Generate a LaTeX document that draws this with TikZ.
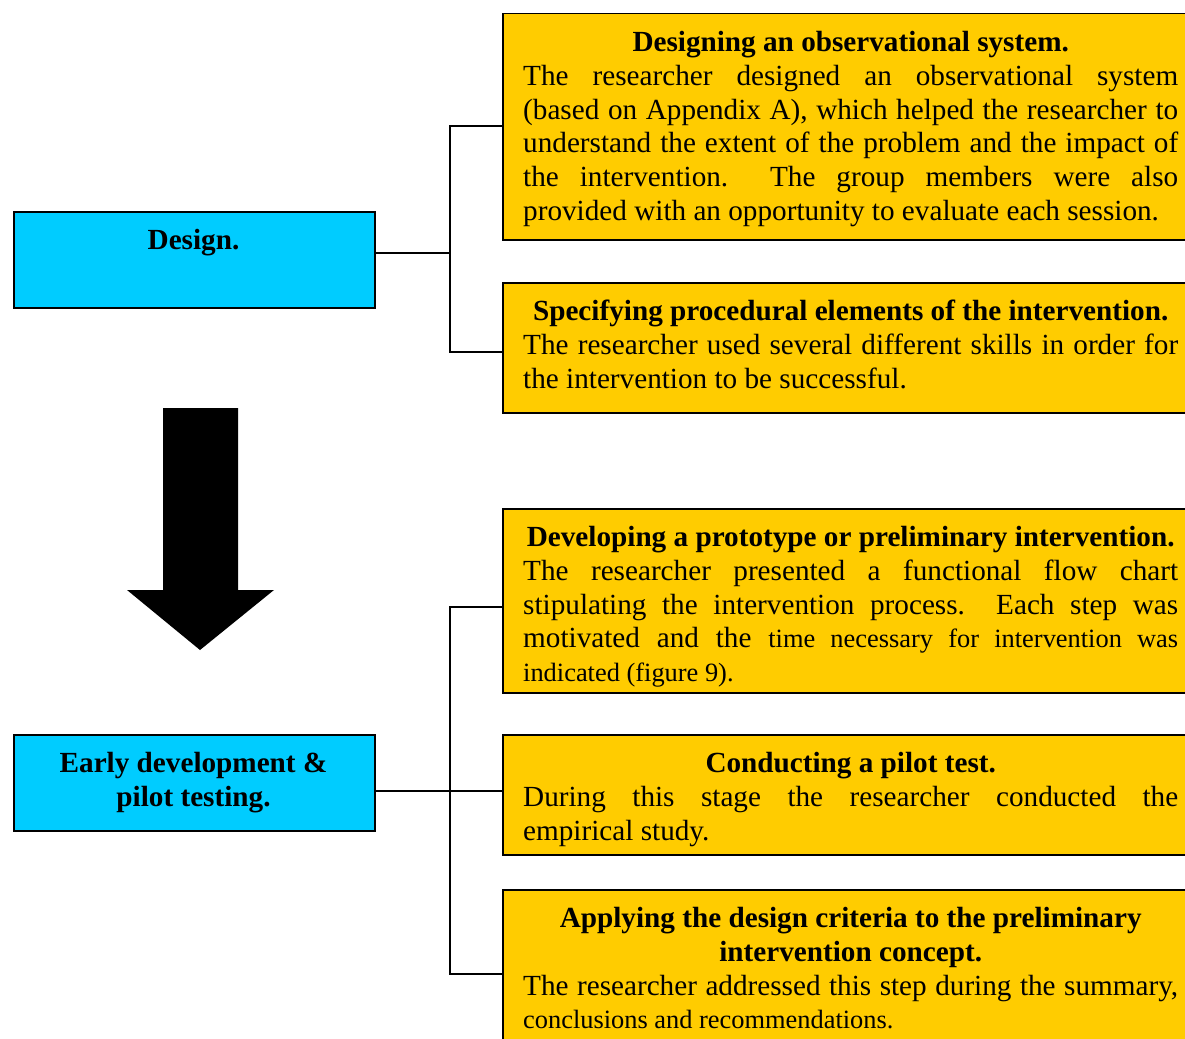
\documentclass[tikz,border=0pt]{standalone}
\usepackage{fontspec}
\setmainfont{Liberation Serif}
\definecolor{stagecyan}{HTML}{00CCFF}
\definecolor{stepgold}{HTML}{FFCC00}
% body text: 29.2pt type on a 33.7pt line pitch
\newcommand\bodyfont{\fontsize{29.2}{33.7}\selectfont}
\newcommand\smallerpart{\fontsize{26.4}{33.7}\selectfont}
% justified, flush-left and centred lines of the step boxes
\newcommand\jline[1]{\makebox[655pt][s]{\strut #1}}
\newcommand\lline[1]{\makebox[655pt][l]{\strut #1}}
\newcommand\headline[1]{\makebox[655pt][c]{\strut\bfseries #1}}
\tikzset{
  stagebox/.style={draw=black, line width=1.5pt, fill=stagecyan, inner sep=0pt,
    minimum width=361pt, minimum height=96pt, anchor=north west},
  stepbox/.style={draw=black, line width=1.5pt, fill=stepgold, inner sep=0pt,
    minimum width=697pt, anchor=north west},
  steptext/.style={inner sep=0pt, anchor=north west, align=left, font=\bodyfont},
  stagetext/.style={inner sep=0pt, anchor=north, align=center, font=\bodyfont\bfseries},
  conn/.style={draw=black, line width=1.6pt},
}
\begin{document}
\begin{tikzpicture}[x=1pt, y=-1pt]
\useasboundingbox (0,0) rectangle (1185,1038);

% ---- stage boxes ----
\node[stagebox] (design) at (13,211) {};
\node[stagetext] (designT) at (193.5,226) {\strut Design.};
\node[stagebox] (early) at (13,734) {};
\node[stagetext] (earlyT) at (193.5,749) {\strut Early development \&\\\strut pilot testing.};

% ---- step boxes ----
\node[stepbox, minimum height=226pt] (obs) at (502,13) {};
\node[steptext] (obsT) at (523,28) {%
  \headline{Designing an observational system.}\\
  \jline{The researcher designed an observational system}\\
  \jline{(based on Appendix A), which helped the researcher to}\\
  \jline{understand the extent of the problem and the impact of}\\
  \jline{the intervention.\ \ The group members were also}\\
  \lline{provided with an opportunity to evaluate each session.}};

\node[stepbox, minimum height=130pt] (proc) at (502,282) {};
\node[steptext] (procT) at (523,297) {%
  \headline{Specifying procedural elements of the intervention.}\\
  \jline{The researcher used several different skills in order for}\\
  \lline{the intervention to be successful.}};

\node[stepbox, minimum height=184pt] (proto) at (502,508) {};
\node[steptext] (protoT) at (523,523) {%
  \headline{Developing a prototype or preliminary intervention.}\\
  \jline{The researcher presented a functional flow chart}\\
  \jline{stipulating the intervention process.\ \ Each step was}\\
  \jline{motivated and the {\smallerpart time necessary for intervention was}}\\
  \lline{\smallerpart indicated (figure 9).}};

\node[stepbox, minimum height=120pt] (pilot) at (502,734) {};
\node[steptext] (pilotT) at (523,749) {%
  \headline{Conducting a pilot test.}\\
  \jline{During this stage the researcher conducted the}\\
  \lline{empirical study.}};

\node[stepbox, minimum height=160pt] (crit) at (502,889) {};
\node[steptext] (critT) at (523,904) {%
  \headline{Applying the design criteria to the preliminary}\\
  \headline{intervention concept.}\\
  \jline{The researcher addressed this step during the summary,}\\
  \lline{\smallerpart conclusions and recommendations.}};

% ---- bracket connectors ----
\coordinate (jA) at (450,253);
\coordinate (jAt) at (450,126);
\coordinate (jAb) at (450,352);
\draw[conn] (jA -| design.east) -- (jA);
\draw[conn] (jAt -| obs.west) -- (jAt) -- (jAb) -- (jAb -| proc.west);

\coordinate (jB) at (450,791);
\coordinate (jBt) at (450,607);
\coordinate (jBb) at (450,974);
\draw[conn] (jB -| early.east) -- (jB -| pilot.west);
\draw[conn] (jBt -| proto.west) -- (jBt) -- (jBb) -- (jBb -| crit.west);

% ---- block arrow between the stages ----
\fill[black] (163,408) -- (238,408) -- (238,590) -- (274,590) -- (200,650)
  -- (127,590) -- (163,590) -- cycle;
\end{tikzpicture}
\end{document}
